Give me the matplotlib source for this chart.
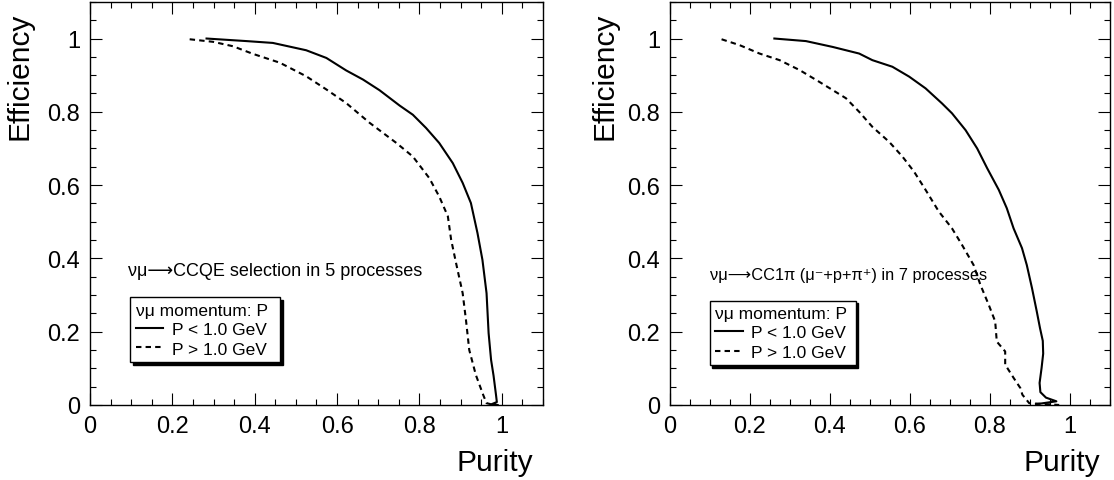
import matplotlib
matplotlib.use("Agg")
import matplotlib.pyplot as plt
from matplotlib.ticker import MultipleLocator

plt.rcParams['font.family'] = ['Liberation Sans', 'DejaVu Sans']

# CCQE selection (left panel)
ccqe_low_pur = [0.283, 0.38, 0.444, 0.525, 0.574, 0.622, 0.663, 0.703, 0.752, 0.784, 0.816,
                0.848, 0.881, 0.905, 0.925, 0.941, 0.953, 0.963, 0.968, 0.974, 0.980, 0.986,
                0.988, 0.975, 0.99]
ccqe_low_eff = [1.0, 0.993, 0.988, 0.968, 0.947, 0.913, 0.888, 0.859, 0.817, 0.792, 0.756,
                0.715, 0.660, 0.606, 0.551, 0.469, 0.396, 0.305, 0.196, 0.123, 0.080, 0.027,
                0.008, 0.002, 0.0]
ccqe_high_pur = [0.242, 0.299, 0.347, 0.396, 0.461, 0.525, 0.574, 0.622, 0.679, 0.744, 0.784,
                 0.824, 0.848, 0.869, 0.877, 0.889, 0.905, 0.913, 0.921, 0.937, 0.955, 0.963, 0.98]
ccqe_high_eff = [0.998, 0.991, 0.979, 0.958, 0.934, 0.897, 0.861, 0.824, 0.770, 0.715, 0.678,
                 0.619, 0.569, 0.515, 0.451, 0.387, 0.305, 0.232, 0.150, 0.082, 0.027, 0.005, 0.0]

# CC1pi selection (right panel)
cc1pi_low_pur = [0.261, 0.340, 0.407, 0.473, 0.506, 0.556, 0.598, 0.639, 0.680, 0.705, 0.739,
                 0.768, 0.793, 0.822, 0.842, 0.859, 0.880, 0.892, 0.905, 0.917, 0.925, 0.932,
                 0.933, 0.929, 0.924, 0.926, 0.940, 0.966, 0.915]
cc1pi_low_eff = [1.0, 0.993, 0.977, 0.959, 0.941, 0.923, 0.896, 0.864, 0.823, 0.796, 0.750,
                 0.700, 0.646, 0.587, 0.537, 0.482, 0.428, 0.382, 0.319, 0.255, 0.210, 0.175,
                 0.140, 0.101, 0.060, 0.035, 0.020, 0.010, 0.002]
cc1pi_high_pur = [0.129, 0.174, 0.224, 0.274, 0.324, 0.373, 0.440, 0.473, 0.506, 0.548, 0.581,
                  0.610, 0.639, 0.672, 0.705, 0.730, 0.759, 0.776, 0.797, 0.813, 0.817, 0.838,
                  0.838, 0.859, 0.876, 0.881, 0.898, 0.973]
cc1pi_high_eff = [0.998, 0.982, 0.959, 0.941, 0.914, 0.882, 0.837, 0.800, 0.759, 0.718, 0.678,
                  0.637, 0.587, 0.528, 0.482, 0.437, 0.382, 0.328, 0.273, 0.228, 0.173, 0.146,
                  0.110, 0.074, 0.046, 0.028, 0.005, 0.0]

labels = ['P < 1.0 GeV', 'P > 1.0 GeV']
legend_title = 'νμ momentum: P'
notes = ['νμ⟶CCQE selection in 5 processes',
         'νμ⟶CC1π (μ⁻+p+π⁺) in 7 processes']


def style_axes(ax):
    ax.set_xlim(0, 1.1)
    ax.set_ylim(0, 1.1)
    ax.xaxis.set_major_locator(MultipleLocator(0.2))
    ax.xaxis.set_minor_locator(MultipleLocator(0.05))
    ax.yaxis.set_major_locator(MultipleLocator(0.2))
    ax.yaxis.set_minor_locator(MultipleLocator(0.05))
    ax.xaxis.set_major_formatter(lambda v, p: f'{v:g}')
    ax.yaxis.set_major_formatter(lambda v, p: f'{v:g}')
    ax.tick_params(which='both', direction='in', top=True, right=True, width=0.8)
    ax.tick_params(which='major', length=8.5, labelsize=17, pad=7)
    ax.tick_params(which='minor', length=4.3)
    for s in ax.spines.values():
        s.set_linewidth(1.0)
    ax.set_xlabel('Purity', loc='right', fontsize=21.5)
    ax.set_ylabel('Efficiency', loc='top', fontsize=21.5)


fig = plt.figure(figsize=(11.14, 4.81), dpi=100)
ax1 = fig.add_axes([0.0808, 0.156, 0.4066, 0.838])
ax2 = fig.add_axes([0.6014, 0.156, 0.395, 0.838])

panels = [
    (ax1, ccqe_low_pur, ccqe_low_eff, ccqe_high_pur, ccqe_high_eff, notes[0], 13,
     (0.083, 0.333), (0.089, 0.099, 0.33, 0.168), -0.124),
    (ax2, cc1pi_low_pur, cc1pi_low_eff, cc1pi_high_pur, cc1pi_high_eff, notes[1], 11.8,
     (0.091, 0.323), (0.090, 0.097, 0.332, 0.162), -0.118),
]

for ax, lp, le, hp, he, note, note_fs, note_xy, leg_box, ylab_x in panels:
    l1, = ax.plot(lp, le, color='black', lw=1.5, label=labels[0])
    l2, = ax.plot(hp, he, color='black', lw=1.5, dashes=(2.6, 2), label=labels[1])
    style_axes(ax)
    ax.yaxis.set_label_coords(ylab_x, 0.975)
    ax.xaxis.set_label_coords(0.978, -0.107)
    ax.text(note_xy[0], note_xy[1], note, transform=ax.transAxes, fontsize=note_fs, va='center')
    leg = ax.legend(handles=[l1, l2], title=legend_title, loc='upper left', bbox_to_anchor=leg_box,
                    mode='expand', borderaxespad=0, fontsize=12.5, title_fontsize=12.5,
                    alignment='left', fancybox=False,
                    shadow={'color': 'black', 'alpha': 1.0, 'ox': 2, 'oy': -2},
                    edgecolor='black', framealpha=1, handlelength=1.6, handletextpad=0.5,
                    borderpad=0.3, labelspacing=0.25)
    leg.get_frame().set_linewidth(1.0)

fig.savefig('out.png', dpi=100)
